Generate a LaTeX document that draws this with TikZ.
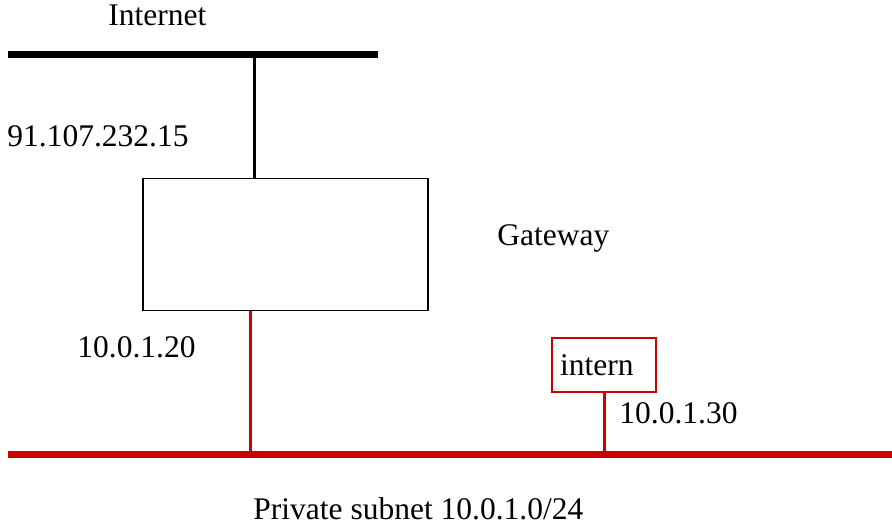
\documentclass[tikz,border=0pt]{standalone}
\usepackage{fontspec}
\setmainfont{Liberation Serif}
\definecolor{netred}{RGB}{204,0,0}

\begin{document}
\begin{tikzpicture}[x=0.5pt, y=-0.5pt,
    every node/.style={font=\fontsize{15.75}{18}\selectfont},
    lbl/.style={anchor=base west, inner sep=0pt},
    bus/.style={line width=3.5pt},
    wire/.style={line width=1.5pt},
    hostbox/.style={rectangle, draw=netred, line width=1pt, minimum height=27pt,
        text width=44pt, align=left, inner xsep=4pt}]
    \useasboundingbox (0,0) rectangle (892,525);

    \coordinate (inetL) at (8,54);
    \coordinate (inetR) at (378,54);
    \coordinate (inetTap) at (254,54);
    \coordinate (lanL) at (8,454.5);
    \coordinate (lanR) at (892,454.5);
    \coordinate (gwTap) at (250,454.5);

    \node (gw) [rectangle, draw, line width=0.75pt, minimum width=142.5pt, minimum height=66pt] at (285.5,244.5) {};
    \node (intern) [hostbox] at (604,365) {intern};

    \node (inetlabel) [lbl] at (108,25) {Internet};
    \node (extip) [lbl] at (7,146) {91.107.232.15};
    \node (gwlabel) [lbl] at (497,245) {Gateway};
    \node (gwip) [lbl] at (77,357) {10.0.1.20};
    \node (internip) [lbl] at (619,423) {10.0.1.30};
    \node (lanlabel) [lbl] at (253,519) {Private subnet 10.0.1.0/24};

    \draw [bus] (inetL) -- (inetR);
    \draw [bus, netred] (lanL) -- (lanR);
    \draw [wire] (inetTap) -- (inetTap |- gw.north);
    \draw [wire, netred] (gwTap |- gw.south) -- (gwTap);
    \draw [wire, netred] (intern.south) -- (intern.south |- lanL);
\end{tikzpicture}
\end{document}
